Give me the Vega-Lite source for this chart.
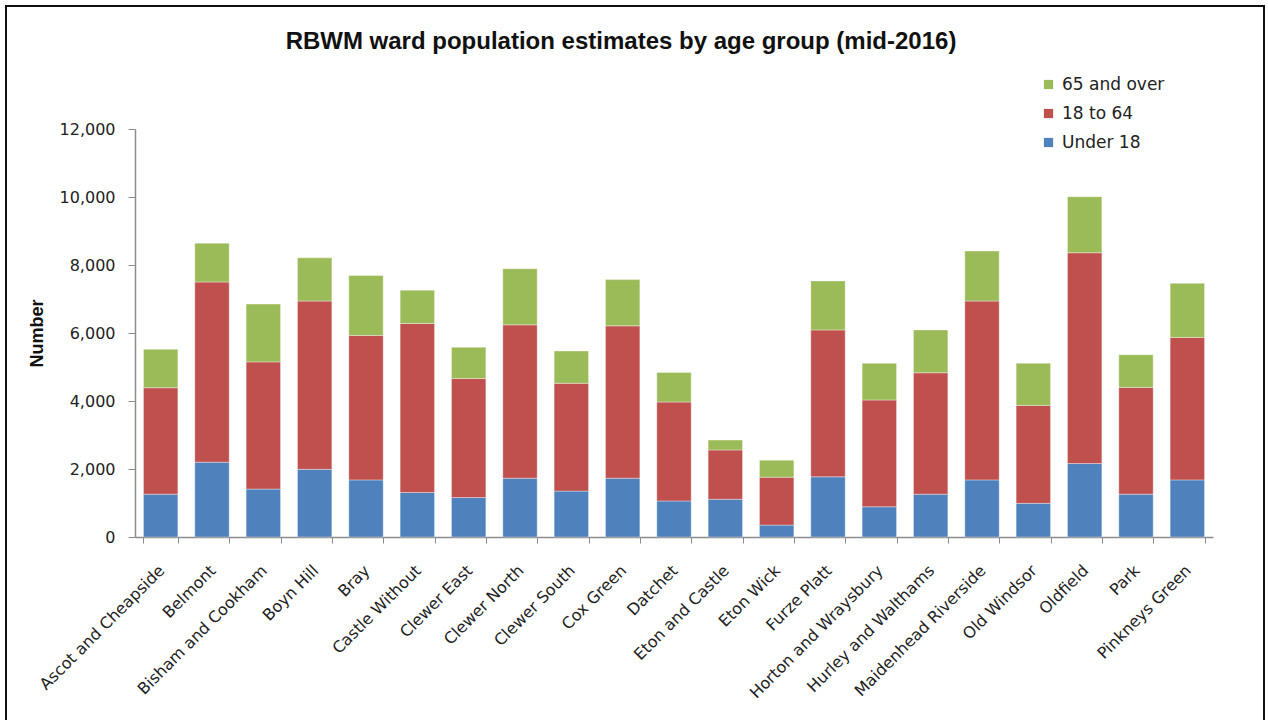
{
  "$schema": "https://vega.github.io/schema/vega-lite/v6.json",
  "width": 1258,
  "height": 720,
  "autosize": {"type": "none"},
  "padding": {"left": 6, "top": 6, "right": 4, "bottom": 0},
  "background": "white",
  "config": {
    "view": {"stroke": "#111111", "strokeWidth": 2},
    "font": "DejaVu Sans"
  },
  "title": {
    "text": "RBWM ward population estimates by age group (mid-2016)",
    "font": "Liberation Sans",
    "fontSize": 24,
    "fontWeight": "bold",
    "color": "#111111",
    "anchor": "middle",
    "baseline": "alphabetic",
    "offset": -67,
    "dx": -14
  },
  "data": {
    "values": [
      {"ward": "Ascot and Cheapside", "Under 18": 1260, "18 to 64": 3130, "65 and over": 1130},
      {"ward": "Belmont", "Under 18": 2200, "18 to 64": 5300, "65 and over": 1140},
      {"ward": "Bisham and Cookham", "Under 18": 1410, "18 to 64": 3740, "65 and over": 1700},
      {"ward": "Boyn Hill", "Under 18": 1990, "18 to 64": 4950, "65 and over": 1270},
      {"ward": "Bray", "Under 18": 1680, "18 to 64": 4250, "65 and over": 1760},
      {"ward": "Castle Without", "Under 18": 1310, "18 to 64": 4970, "65 and over": 980},
      {"ward": "Clewer East", "Under 18": 1160, "18 to 64": 3500, "65 and over": 920},
      {"ward": "Clewer North", "Under 18": 1730, "18 to 64": 4510, "65 and over": 1650},
      {"ward": "Clewer South", "Under 18": 1350, "18 to 64": 3170, "65 and over": 950},
      {"ward": "Cox Green", "Under 18": 1730, "18 to 64": 4480, "65 and over": 1360},
      {"ward": "Datchet", "Under 18": 1060, "18 to 64": 2910, "65 and over": 870},
      {"ward": "Eton and Castle", "Under 18": 1110, "18 to 64": 1450, "65 and over": 290},
      {"ward": "Eton Wick", "Under 18": 350, "18 to 64": 1410, "65 and over": 500},
      {"ward": "Furze Platt", "Under 18": 1770, "18 to 64": 4320, "65 and over": 1440},
      {"ward": "Horton and Wraysbury", "Under 18": 890, "18 to 64": 3140, "65 and over": 1080},
      {"ward": "Hurley and Walthams", "Under 18": 1260, "18 to 64": 3570, "65 and over": 1260},
      {"ward": "Maidenhead Riverside", "Under 18": 1680, "18 to 64": 5260, "65 and over": 1470},
      {"ward": "Old Windsor", "Under 18": 990, "18 to 64": 2880, "65 and over": 1240},
      {"ward": "Oldfield", "Under 18": 2160, "18 to 64": 6200, "65 and over": 1650},
      {"ward": "Park", "Under 18": 1260, "18 to 64": 3140, "65 and over": 960},
      {"ward": "Pinkneys Green", "Under 18": 1680, "18 to 64": 4190, "65 and over": 1590}
    ]
  },
  "transform": [
    {"fold": ["Under 18", "18 to 64", "65 and over"], "as": ["group", "population"]},
    {"calculate": "indexof(['Under 18', '18 to 64', '65 and over'], datum.group)", "as": "stack_rank"}
  ],
  "mark": {"type": "bar", "stroke": "white", "strokeWidth": 0.6, "strokeOpacity": 0.6},
  "encoding": {
    "x": {
      "field": "ward",
      "type": "nominal",
      "sort": null,
      "scale": {"range": [129, 1207], "paddingInner": 0.33, "paddingOuter": 0.165},
      "axis": {
        "orient": "bottom",
        "offset": -189,
        "title": null,
        "tickBand": "extent",
        "labelAngle": -45,
        "labelOverlap": false,
        "labelLimit": 0,
        "labelFont": "DejaVu Sans",
        "labelFontSize": 16,
        "labelColor": "#222222",
        "labelPadding": 19,
        "labelOffset": -5,
        "tickSize": 6,
        "tickColor": "#8c8c8c",
        "domainColor": "#8c8c8c",
        "domainWidth": 1.5
      }
    },
    "y": {
      "field": "population",
      "type": "quantitative",
      "stack": "zero",
      "scale": {"domain": [0, 12000], "range": [531, 123], "nice": false, "zero": true},
      "axis": {
        "orient": "left",
        "offset": -129,
        "values": [0, 2000, 4000, 6000, 8000, 10000, 12000],
        "format": ",.0f",
        "grid": false,
        "title": "Number",
        "titleFont": "Liberation Sans",
        "titleFontSize": 18,
        "titleFontWeight": "bold",
        "titleColor": "#111111",
        "titlePadding": 13,
        "labelFont": "DejaVu Sans",
        "labelFontSize": 16,
        "labelColor": "#222222",
        "labelPadding": 13,
        "tickSize": 7,
        "tickColor": "#8c8c8c",
        "domainColor": "#8c8c8c",
        "domainWidth": 1.5
      }
    },
    "order": {"field": "stack_rank", "type": "quantitative", "sort": "ascending"},
    "color": {
      "field": "group",
      "type": "nominal",
      "scale": {
        "domain": ["Under 18", "18 to 64", "65 and over"],
        "range": ["#4F81BD", "#C0504D", "#9BBB59"]
      },
      "legend": {
        "orient": "none",
        "legendX": 1034,
        "legendY": 70,
        "title": null,
        "padding": 0,
        "values": ["65 and over", "18 to 64", "Under 18"],
        "symbolType": "square",
        "symbolSize": 85,
        "symbolStrokeWidth": 0,
        "labelFont": "DejaVu Sans",
        "labelFontSize": 17,
        "labelColor": "#222222",
        "labelOffset": 5,
        "rowPadding": 11
      }
    }
  }
}
